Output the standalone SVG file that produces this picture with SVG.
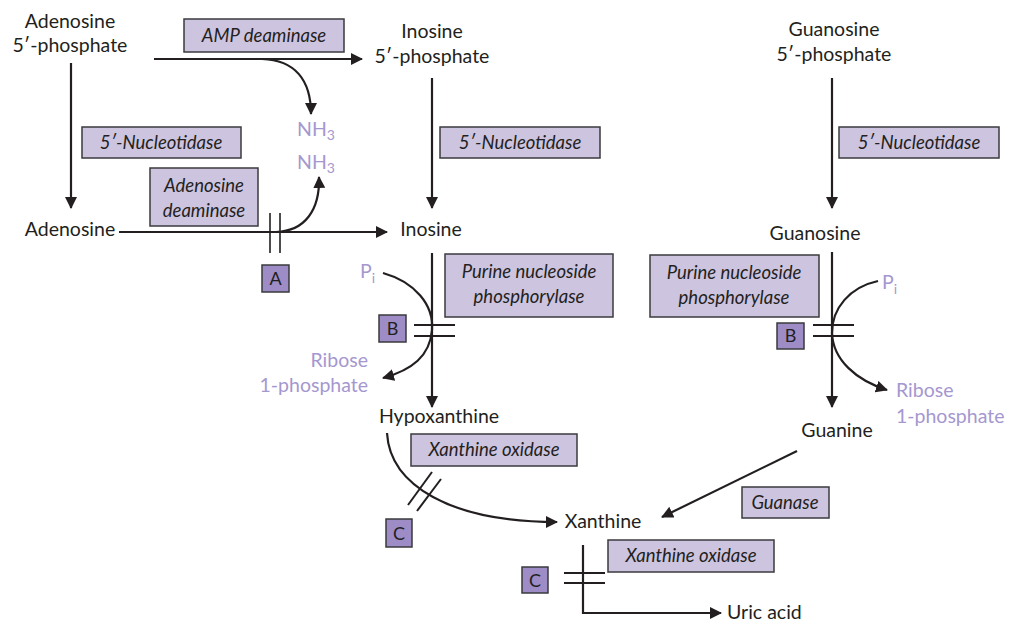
<svg xmlns="http://www.w3.org/2000/svg" width="1010" height="622" viewBox="0 0 1010 622">
  <defs>
    <marker id="ah" viewBox="0 0 12 12" refX="11" refY="6" markerWidth="12" markerHeight="12" markerUnits="userSpaceOnUse" orient="auto">
      <path d="M0,0 L12,6 L0,12 Z" fill="#231f20"/>
    </marker>
    <style>
      .node { font-family: Lato, "Open Sans", sans-serif; font-size: 19.5px; fill: #231f20; }
      .side { font-family: Lato, "Open Sans", sans-serif; font-size: 19.5px; fill: #a597cf; }
      .enz rect { fill: #cdc4e0; stroke: #3b3a3c; stroke-width: 1.5; }
      .enz text { font-family: Lato, "Open Sans", sans-serif; font-style: italic; font-size: 18.5px; fill: #231f20; text-anchor: middle; }
      .tag rect { fill: #9d8cc6; stroke: #3b3a3c; stroke-width: 1.5; }
      .tag text { font-family: Lato, "Open Sans", sans-serif; font-size: 18px; fill: #231f20; text-anchor: middle; }
      .ln { fill: none; stroke: #231f20; stroke-width: 2.2; }
      .arr { fill: none; stroke: #231f20; stroke-width: 2.2; marker-end: url(#ah); }
      .bar { stroke: #231f20; stroke-width: 2; }
      .thin { stroke: #231f20; stroke-width: 1.6; }
    </style>
  </defs>

  <!-- metabolites -->
  <g id="amp" class="node" text-anchor="middle">
    <text x="70" y="28">Adenosine</text>
    <text x="70" y="52">5′-phosphate</text>
  </g>
  <g id="imp" class="node" text-anchor="middle">
    <text x="432" y="38">Inosine</text>
    <text x="432" y="63">5′-phosphate</text>
  </g>
  <g id="gmp" class="node" text-anchor="middle">
    <text x="834" y="36">Guanosine</text>
    <text x="834" y="61">5′-phosphate</text>
  </g>
  <g id="adenosine" class="node" text-anchor="middle">
    <text x="70" y="236">Adenosine</text>
  </g>
  <g id="inosine" class="node" text-anchor="middle">
    <text x="431" y="236">Inosine</text>
  </g>
  <g id="guanosine" class="node" text-anchor="middle">
    <text x="815" y="240">Guanosine</text>
  </g>
  <g id="hypoxanthine" class="node" text-anchor="middle">
    <text x="439" y="423">Hypoxanthine</text>
  </g>
  <g id="guanine" class="node" text-anchor="middle">
    <text x="837" y="437">Guanine</text>
  </g>
  <g id="xanthine" class="node" text-anchor="middle">
    <text x="603" y="528">Xanthine</text>
  </g>
  <g id="uric-acid" class="node">
    <text x="727" y="619">Uric acid</text>
  </g>

  <!-- by-products -->
  <g id="nh3-a" class="side" text-anchor="middle">
    <text x="316" y="136">NH<tspan font-size="14" dy="4">3</tspan></text>
  </g>
  <g id="nh3-b" class="side" text-anchor="middle">
    <text x="316" y="169">NH<tspan font-size="14" dy="4">3</tspan></text>
  </g>
  <g id="pi-mid" class="side">
    <text x="360" y="278">P<tspan font-size="14" dy="5">i</tspan></text>
  </g>
  <g id="r1p-mid" class="side" text-anchor="end">
    <text x="368" y="367">Ribose</text>
    <text x="368" y="392">1-phosphate</text>
  </g>
  <g id="pi-right" class="side">
    <text x="882" y="289">P<tspan font-size="14" dy="5">i</tspan></text>
  </g>
  <g id="r1p-right" class="side">
    <text x="896" y="397">Ribose</text>
    <text x="896" y="423">1-phosphate</text>
  </g>

  <!-- enzymes -->
  <g id="enz-amp-deaminase" class="enz">
    <rect x="184" y="19" width="160" height="33"/>
    <text x="264" y="42">AMP deaminase</text>
  </g>
  <g id="enz-nt-left" class="enz">
    <rect x="82" y="127" width="159" height="31"/>
    <text x="161" y="149">5′-Nucleotidase</text>
  </g>
  <g id="enz-nt-mid" class="enz">
    <rect x="440" y="127" width="160" height="31"/>
    <text x="520" y="149">5′-Nucleotidase</text>
  </g>
  <g id="enz-nt-right" class="enz">
    <rect x="839" y="127" width="160" height="31"/>
    <text x="919" y="149">5′-Nucleotidase</text>
  </g>
  <g id="enz-ada" class="enz">
    <rect x="150" y="168" width="108" height="58"/>
    <text x="204" y="192">Adenosine</text>
    <text x="204" y="217">deaminase</text>
  </g>
  <g id="enz-pnp-mid" class="enz">
    <rect x="445" y="254" width="168" height="63"/>
    <text x="529" y="278">Purine nucleoside</text>
    <text x="529" y="303">phosphorylase</text>
  </g>
  <g id="enz-pnp-right" class="enz">
    <rect x="650" y="255" width="169" height="62"/>
    <text x="734" y="279">Purine nucleoside</text>
    <text x="734" y="304">phosphorylase</text>
  </g>
  <g id="enz-xo-upper" class="enz">
    <rect x="411" y="434" width="166" height="32"/>
    <text x="494" y="456">Xanthine oxidase</text>
  </g>
  <g id="enz-guanase" class="enz">
    <rect x="742" y="487" width="87" height="31"/>
    <text x="785" y="509">Guanase</text>
  </g>
  <g id="enz-xo-lower" class="enz">
    <rect x="608" y="540" width="166" height="32"/>
    <text x="691" y="562">Xanthine oxidase</text>
  </g>

  <!-- deficiency tags -->
  <g id="tag-a" class="tag">
    <rect x="262" y="265" width="27" height="27"/>
    <text x="275.5" y="285">A</text>
  </g>
  <g id="tag-b-mid" class="tag">
    <rect x="379" y="315" width="27" height="27"/>
    <text x="392.5" y="335">B</text>
  </g>
  <g id="tag-b-right" class="tag">
    <rect x="777" y="323" width="27" height="26"/>
    <text x="790.5" y="342">B</text>
  </g>
  <g id="tag-c-upper" class="tag">
    <rect x="386" y="519" width="26" height="28"/>
    <text x="399" y="540">C</text>
  </g>
  <g id="tag-c-lower" class="tag">
    <rect x="522" y="567" width="26" height="26"/>
    <text x="535" y="587">C</text>
  </g>

  <!-- connectors -->
  <g id="connectors">
    <!-- AMP -> IMP, releasing NH3 -->
    <path class="arr" d="M154,59 L362,59"/>
    <path class="arr" d="M262,59 C295,60 311,80 311,114"/>
    <!-- AMP -> adenosine -->
    <path class="arr" d="M71,63 L71,208"/>
    <!-- IMP -> inosine -->
    <path class="arr" d="M432,78 L432,208"/>
    <!-- GMP -> guanosine -->
    <path class="arr" d="M832,78 L832,208"/>
    <!-- adenosine -> inosine, releasing NH3 -->
    <path class="arr" d="M119,232 L387,232"/>
    <path class="arr" d="M276,232 C305,231 320,210 319,177"/>
    <line class="thin" x1="270" y1="213" x2="270" y2="253"/>
    <line class="thin" x1="280" y1="213" x2="280" y2="253"/>
    <!-- inosine -> hypoxanthine -->
    <path class="arr" d="M432,253 L432,407"/>
    <path class="arr" d="M383,273 C415,282 434,305 432,330 C430,356 412,370 383,378"/>
    <line class="bar" x1="414" y1="325" x2="455" y2="325"/>
    <line class="bar" x1="414" y1="336" x2="455" y2="336"/>
    <!-- guanosine -> guanine -->
    <path class="arr" d="M832,252 L832,407"/>
    <path class="arr" d="M878,281 C850,287 832,308 832,333 C833,360 856,380 887,390"/>
    <line class="bar" x1="813" y1="325" x2="854" y2="325"/>
    <line class="bar" x1="813" y1="336" x2="854" y2="336"/>
    <!-- hypoxanthine -> xanthine -->
    <path class="arr" d="M387,433 C390,485 450,522 557,522"/>
    <line class="bar" x1="408" y1="505" x2="432" y2="472"/>
    <line class="bar" x1="417" y1="511" x2="441" y2="479"/>
    <!-- guanine -> xanthine -->
    <path class="arr" d="M797,451 L662,517"/>
    <!-- xanthine -> uric acid -->
    <path class="arr" d="M583,545 L583,613 L721,613"/>
    <line class="bar" x1="564" y1="573" x2="605" y2="573"/>
    <line class="bar" x1="564" y1="583" x2="605" y2="583"/>
  </g>
</svg>
